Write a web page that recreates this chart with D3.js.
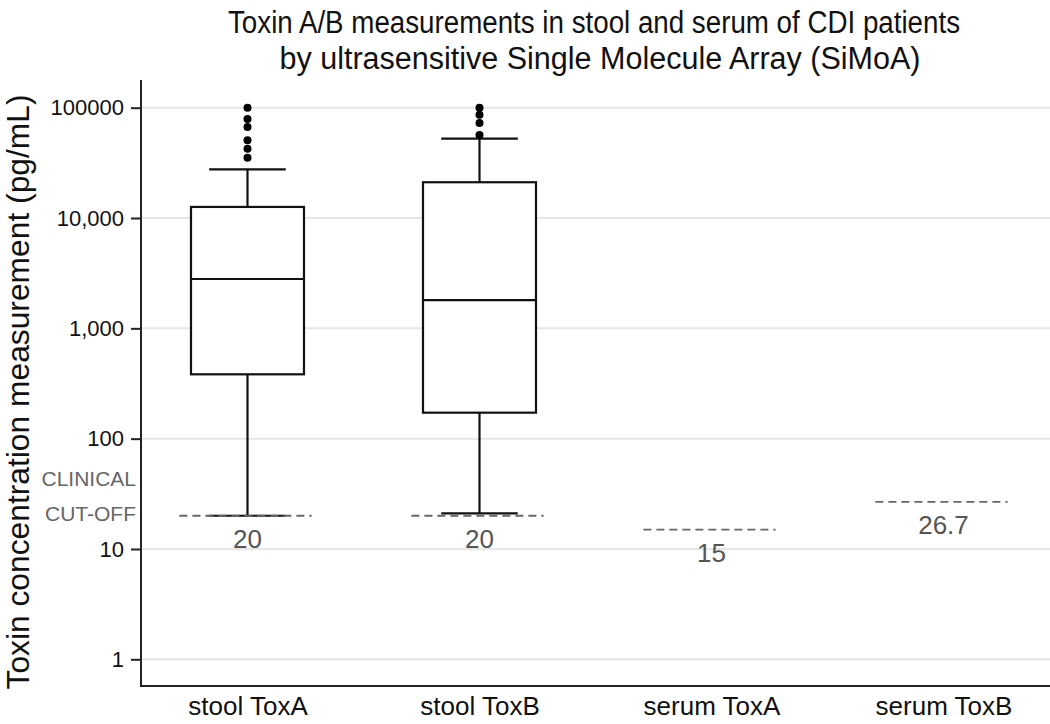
<!DOCTYPE html>
<html>
<head>
<meta charset="utf-8">
<script src="https://cdn.jsdelivr.net/npm/d3@7"></script>
<style>
  html, body { margin: 0; padding: 0; background: #fff; }
  svg { display: block; }
</style>
</head>
<body>
<svg id="chart" width="1050" height="724"></svg>
<script>
// ---- data ----
const categories = ["stool ToxA", "stool ToxB", "serum ToxA", "serum ToxB"];
const whiskerLow  = [20, 21, null, null];
const q1          = [383, 172, null, null];
const medians     = [2800, 1800, null, null];
const q3          = [12600, 21100, null, null];
const whiskerHigh = [27600, 52400, null, null];
const outliers    = [
  [35200, 42500, 50600, 66800, 79100, 100000],
  [56500, 72600, 86400, 100000],
  [],
  []
];
const cutoffs = [20, 20, 15, 26.7];
const cutoffLabels = ["20", "20", "15", "26.7"];
const yTicks = [1, 10, 100, 1000, 10000, 100000];
const yTickLabels = ["1", "10", "100", "1,000", "10,000", "100000"];
const titleLines = ["Toxin A/B measurements in stool and serum of CDI patients",
                    "by ultrasensitive Single Molecule Array (SiMoA)"];
const yTitle = "Toxin concentration measurement (pg/mL)";

// ---- layout ----
(function () {
const svg = d3.select("#chart");
const mLeft = 141, mRight = 1050, mTop = 80, mBottom = 686;
const font = "'Liberation Sans', Arial, sans-serif";

const x = d3.scalePoint().domain(categories).range([mLeft, mRight]).padding(0.459);
const step = x.step();
const y = d3.scaleLog().domain([Math.pow(10, -0.242), Math.pow(10, 5.251)]).range([mBottom, mTop]);

// gridlines
svg.append("g").selectAll("line").data(yTicks).join("line")
  .attr("x1", mLeft).attr("x2", mRight)
  .attr("y1", d => y(d)).attr("y2", d => y(d))
  .attr("stroke", "#e6e6e6").attr("stroke-width", 2);

// y axis
const yAxis = d3.axisLeft(y).tickValues(yTicks)
  .tickFormat((d, i) => yTickLabels[i]).tickSize(10).tickPadding(7);
const ya = svg.append("g").attr("transform", `translate(${mLeft},0)`).call(yAxis);
ya.select(".domain").remove();
ya.selectAll(".tick line").attr("stroke", "#222").attr("stroke-width", 2);
ya.selectAll(".tick text").attr("font-family", font).attr("font-size", 22).attr("fill", "#111");

// frame lines
svg.append("line").attr("x1", mLeft).attr("x2", mLeft).attr("y1", mTop).attr("y2", mBottom)
  .attr("stroke", "#222").attr("stroke-width", 2);
svg.append("line").attr("x1", mLeft - 1).attr("x2", mRight).attr("y1", mBottom).attr("y2", mBottom)
  .attr("stroke", "#222").attr("stroke-width", 2);

// x axis labels
const xAxis = d3.axisBottom(x).tickSize(0).tickPadding(11);
const xa = svg.append("g").attr("transform", `translate(0,${mBottom})`).call(xAxis);
xa.select(".domain").remove();
xa.selectAll(".tick text").attr("font-family", font).attr("font-size", 26).attr("fill", "#111");

// boxes
const boxW = step * 0.487, capW = step * 0.33;
const boxIdx = categories.map((c, i) => i).filter(i => medians[i] !== null);
const g = svg.append("g").attr("stroke", "#111").attr("stroke-width", 2.2).attr("fill", "none");
boxIdx.forEach(i => {
  const cx = x(categories[i]);
  g.append("line").attr("x1", cx).attr("x2", cx).attr("y1", y(q3[i])).attr("y2", y(whiskerHigh[i]));
  g.append("line").attr("x1", cx).attr("x2", cx).attr("y1", y(q1[i])).attr("y2", y(whiskerLow[i]));
  g.append("line").attr("x1", cx - capW / 2).attr("x2", cx + capW / 2).attr("y1", y(whiskerHigh[i])).attr("y2", y(whiskerHigh[i]));
  g.append("line").attr("x1", cx - capW / 2).attr("x2", cx + capW / 2).attr("y1", y(whiskerLow[i])).attr("y2", y(whiskerLow[i]));
  g.append("rect").attr("x", cx - boxW / 2).attr("width", boxW)
    .attr("y", y(q3[i])).attr("height", y(q1[i]) - y(q3[i])).attr("fill", "#fff");
  g.append("line").attr("x1", cx - boxW / 2).attr("x2", cx + boxW / 2).attr("y1", y(medians[i])).attr("y2", y(medians[i]));
  svg.append("g").selectAll("circle").data(outliers[i]).join("circle")
    .attr("cx", cx).attr("cy", d => y(d)).attr("r", 4).attr("fill", "#000");
});

// cut-off lines
const cutW = step * 0.57;
svg.append("g").selectAll("line").data(cutoffs).join("line")
  .attr("x1", (d, i) => x(categories[i]) - cutW / 2 - 2)
  .attr("x2", (d, i) => x(categories[i]) + cutW / 2 - 2)
  .attr("y1", d => y(d)).attr("y2", d => y(d))
  .attr("stroke", "#666").attr("stroke-width", 1.8).attr("stroke-dasharray", "8,5");
svg.append("g").selectAll("text").data(cutoffs).join("text")
  .attr("x", (d, i) => x(categories[i]))
  .attr("y", d => y(d) + 32)
  .attr("text-anchor", "middle")
  .attr("font-family", font).attr("font-size", 26).attr("fill", "#555")
  .text((d, i) => cutoffLabels[i]);

// clinical cut-off label
svg.append("text").attr("x", 136).attr("y", 486).attr("text-anchor", "end")
  .attr("font-family", font).attr("font-size", 21).attr("fill", "#666").text("CLINICAL");
svg.append("text").attr("x", 136).attr("y", 521).attr("text-anchor", "end")
  .attr("font-family", font).attr("font-size", 21).attr("fill", "#666").text("CUT-OFF");

// titles
svg.append("text").attr("x", 594).attr("y", 33).attr("text-anchor", "middle")
  .attr("font-family", font).attr("font-size", 31).attr("fill", "#111")
  .attr("textLength", 732).attr("lengthAdjust", "spacingAndGlyphs").text(titleLines[0]);
svg.append("text").attr("x", 600).attr("y", 69).attr("text-anchor", "middle")
  .attr("font-family", font).attr("font-size", 31).attr("fill", "#111")
  .attr("textLength", 641).attr("lengthAdjust", "spacingAndGlyphs").text(titleLines[1]);

// y title
svg.append("text").attr("transform", "translate(29,392) rotate(-90)")
  .attr("text-anchor", "middle").attr("font-family", font).attr("font-size", 31)
  .attr("fill", "#111").attr("textLength", 595).attr("lengthAdjust", "spacingAndGlyphs")
  .text(yTitle);
})();
</script>
</body>
</html>
